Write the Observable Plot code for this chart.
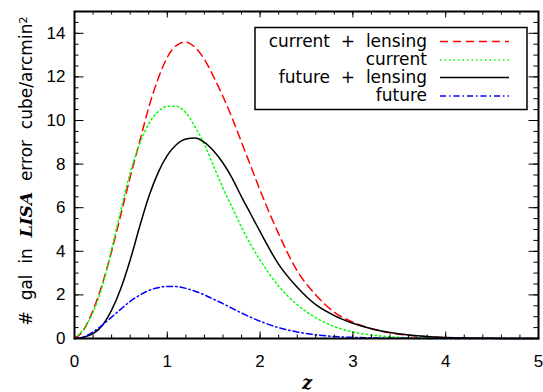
<!DOCTYPE html>
<html><head><meta charset="utf-8">
<script src="https://cdn.jsdelivr.net/npm/d3@7"></script>
<script src="https://cdn.jsdelivr.net/npm/@observablehq/plot@0.6"></script>
<style>body{margin:0;background:#fff;} #chart{width:543px;height:392px;}</style>
</head><body><div id="chart"></div>
<script>
// ---- data ----
const z = [0,0.1,0.2,0.3,0.4,0.5,0.6,0.7,0.8,0.9,1.0,1.1,1.2,1.3,1.4,1.5,1.6,1.7,1.8,1.9,2.0,2.2,2.4,2.6,2.8,3.0,3.2,3.4,3.6,3.8,4.0,4.5,5.0];
const currentLensing = [0,0.4,1.3,2.5,4.0,5.7,7.4,9.0,10.6,11.9,12.9,13.45,13.6,13.35,12.8,12.0,11.1,10.1,9.0,7.9,6.8,4.8,3.1,2.0,1.2,0.75,0.45,0.26,0.15,0.08,0.04,0.006,0];
const current = [0,0.45,1.2,2.4,4.1,5.9,7.6,8.9,9.85,10.4,10.65,10.65,10.35,9.7,8.9,7.9,6.9,6.0,5.1,4.3,3.6,2.4,1.55,0.95,0.55,0.3,0.16,0.08,0.04,0.02,0.01,0,0];
const futureLensing = [0,0.06,0.22,0.6,1.3,2.3,3.6,5.1,6.5,7.6,8.4,8.9,9.15,9.2,9.0,8.6,8.05,7.35,6.5,5.7,4.9,3.4,2.35,1.55,1.05,0.7,0.45,0.27,0.16,0.09,0.05,0.01,0];
const future = [0,0.08,0.3,0.62,0.98,1.35,1.7,1.98,2.2,2.33,2.39,2.38,2.3,2.17,2.0,1.8,1.6,1.38,1.17,0.97,0.79,0.5,0.3,0.17,0.09,0.05,0.03,0.015,0.008,0.004,0.002,0,0];
const seriesNames = ["current  +  lensing", "current", "future  +  lensing", "future"];
const seriesValues = [currentLensing, current, futureLensing, future];
const seriesColors = ["#ff0000", "#00ff00", "#000000", "#0000ff"];
const seriesDash = ["8,5", "1.5,3", null, "6,3,1.5,3"];
const xTicks = [0,1,2,3,4,5];
const yTicks = [0,2,4,6,8,10,12,14];

// ---- layout ----
const W = 543, H = 392, mL = 74, mR = 5, mT = 11, mB = 54;
const iw = W - mL - mR, ih = H - mT - mB;
const xMinor = d3.range(0, 5.0001, 0.2);
const yMinor = d3.range(0, 15.0001, 0.5);

const lines = seriesValues.map((vals, k) =>
  Plot.line(z.map((zz, i) => ({z: zz, v: vals[i]})), {
    x: "z", y: "v", curve: "monotone-x",
    stroke: seriesColors[k], strokeWidth: 1.5,
    strokeDasharray: seriesDash[k]
  })
);

const chart = Plot.plot({
  width: W, height: H,
  marginLeft: mL, marginRight: mR, marginTop: mT, marginBottom: mB,
  style: {fontFamily: "Liberation Sans", fontSize: "17px", color: "#000", background: "#fff"},
  x: {domain: [0, 5]},
  y: {domain: [0, 15]},
  marks: [
    ...lines,
    // inward ticks (IDL style) on all four sides
    Plot.tickX(xMinor, {x: d => d, insetTop: ih - 3.5, stroke: "#000"}),
    Plot.tickX(xTicks, {x: d => d, insetTop: ih - 6.5, stroke: "#000"}),
    Plot.tickX(xMinor, {x: d => d, insetBottom: ih - 3.5, stroke: "#000"}),
    Plot.tickX(xTicks, {x: d => d, insetBottom: ih - 6.5, stroke: "#000"}),
    Plot.tickY(yMinor, {y: d => d, insetRight: iw - 4.6, stroke: "#000"}),
    Plot.tickY(yTicks, {y: d => d, insetRight: iw - 9.5, stroke: "#000"}),
    Plot.tickY(yMinor, {y: d => d, insetLeft: iw - 4.6, stroke: "#000"}),
    Plot.tickY(yTicks, {y: d => d, insetLeft: iw - 9.5, stroke: "#000"}),
    Plot.frame({stroke: "#000", strokeWidth: 2}),
    Plot.axisX(xTicks, {tickSize: 0, tickPadding: 16, fontSize: 17, label: null, tickFormat: d => String(d)}),
    Plot.axisY(yTicks, {tickSize: 0, tickPadding: 9, fontSize: 17, label: null, tickFormat: d => String(d)})
  ]
});
document.getElementById("chart").appendChild(chart);

const svg = d3.select(chart);

// y label
const yl = svg.append("text")
  .attr("transform", "translate(32,171) rotate(-90)")
  .attr("text-anchor", "middle")
  .style("white-space", "pre")
  .attr("xml:space", "preserve")
  .style("font-family", "DejaVu Sans")
  .style("font-size", "17px")
  .attr("fill", "#000");
yl.append("tspan").text("#  gal  in  ");
yl.append("tspan").text("LISA").style("font-family", "DejaVu Serif").style("font-style", "italic").style("font-weight", "bold");
yl.append("tspan").text("  error  cube/arcmin");
yl.append("tspan").text("2").attr("dy", "-0.45em").style("font-size", "11px");

// x label
svg.append("text")
  .attr("x", 307).attr("y", 389)
  .attr("text-anchor", "middle")
  .style("font-family", "DejaVu Serif").style("font-style", "italic").style("font-weight", "bold")
  .style("font-size", "18px").attr("fill", "#000")
  .text("z");

// legend
const lg = svg.append("g");
lg.append("rect").attr("x", 255).attr("y", 27.5).attr("width", 272).attr("height", 82)
  .attr("fill", "#fff").attr("stroke", "#000").attr("stroke-width", 1.5);
const baselines = [46.5, 64.5, 82.5, 100.5];
const lineY = [41.5, 60, 77.5, 96];
seriesNames.forEach((name, k) => {
  lg.append("text").attr("x", 427).attr("y", baselines[k])
    .attr("text-anchor", "end").attr("xml:space", "preserve").style("white-space", "pre")
    .style("font-family", "DejaVu Sans").style("font-size", "17px").attr("fill", "#000")
    .text(name);
  lg.append("line").attr("x1", 440).attr("x2", 509).attr("y1", lineY[k]).attr("y2", lineY[k])
    .attr("stroke", seriesColors[k]).attr("stroke-width", 1.5)
    .attr("stroke-dasharray", seriesDash[k]);
});
</script>
</body></html>
